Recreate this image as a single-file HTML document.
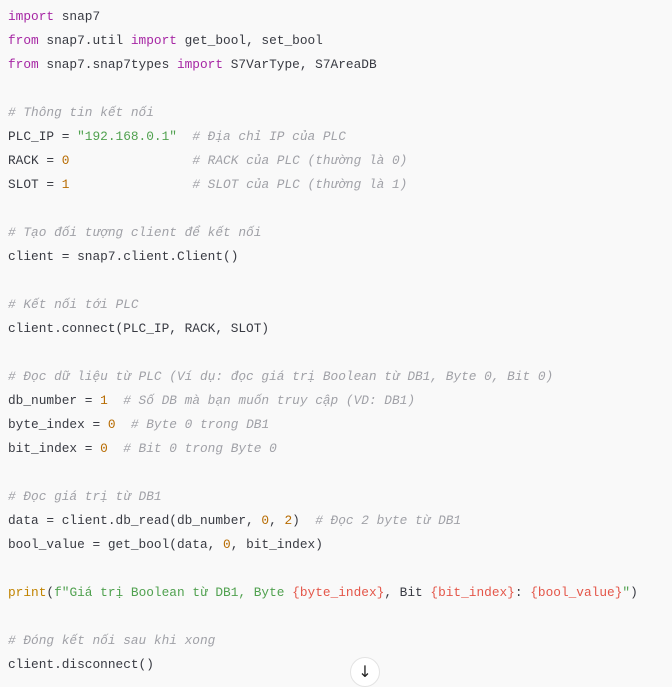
<!DOCTYPE html>
<html><head><meta charset="utf-8"><style>
html,body{margin:0;padding:0;width:672px;height:682px;overflow:hidden;background:#f9f9f9;}
pre{margin:0;padding:5px 0 0 8px;font-family:"Liberation Mono","DejaVu Sans Mono",monospace;font-size:12.8px;line-height:24px;color:#383a42;white-space:pre;}
.k{color:#a626a4}.s{color:#50a14f}.n{color:#b76b01}.c{color:#a0a1a7;font-style:italic}.b{color:#c18401}.i{color:#e45649}
.btn{position:absolute;left:350px;top:657px;width:30px;height:30px;border-radius:50%;background:#fff;border:1px solid #e3e3e3;box-sizing:border-box;text-align:center;font:16px/28px "DejaVu Sans",sans-serif;color:#222;}
</style></head><body>
<pre><span class="k">import</span> snap7
<span class="k">from</span> snap7.util <span class="k">import</span> get_bool, set_bool
<span class="k">from</span> snap7.snap7types <span class="k">import</span> S7VarType, S7AreaDB

<span class="c"># Thông tin kết nối</span>
PLC_IP = <span class="s">"192.168.0.1"</span>  <span class="c"># Địa chỉ IP của PLC</span>
RACK = <span class="n">0</span>                <span class="c"># RACK của PLC (thường là 0)</span>
SLOT = <span class="n">1</span>                <span class="c"># SLOT của PLC (thường là 1)</span>

<span class="c"># Tạo đối tượng client để kết nối</span>
client = snap7.client.Client()

<span class="c"># Kết nối tới PLC</span>
client.connect(PLC_IP, RACK, SLOT)

<span class="c"># Đọc dữ liệu từ PLC (Ví dụ: đọc giá trị Boolean từ DB1, Byte 0, Bit 0)</span>
db_number = <span class="n">1</span>  <span class="c"># Số DB mà bạn muốn truy cập (VD: DB1)</span>
byte_index = <span class="n">0</span>  <span class="c"># Byte 0 trong DB1</span>
bit_index = <span class="n">0</span>  <span class="c"># Bit 0 trong Byte 0</span>

<span class="c"># Đọc giá trị từ DB1</span>
data = client.db_read(db_number, <span class="n">0</span>, <span class="n">2</span>)  <span class="c"># Đọc 2 byte từ DB1</span>
bool_value = get_bool(data, <span class="n">0</span>, bit_index)

<span class="b">print</span>(<span class="s">f"Giá trị Boolean từ DB1, Byte </span><span class="i">{byte_index}</span>, Bit <span class="i">{bit_index}</span>: <span class="i">{bool_value}</span><span class="s">"</span>)

<span class="c"># Đóng kết nối sau khi xong</span>
client.disconnect()</pre>
<div class="btn">↓</div>
</body></html>
